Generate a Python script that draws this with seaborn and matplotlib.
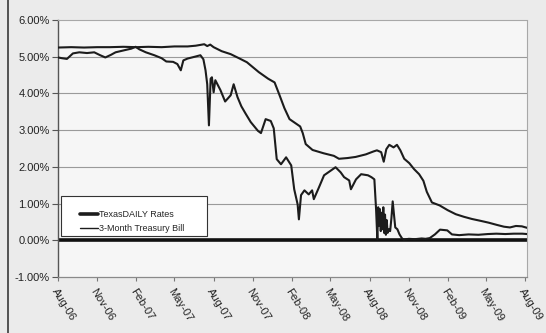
import matplotlib
matplotlib.use("Agg")
import matplotlib.pyplot as plt
import matplotlib.dates as mdates
from matplotlib.lines import Line2D
from matplotlib.patches import Rectangle
import numpy as np
import pandas as pd
import seaborn as sns

# TexasDAILY pool yield (%)
texas_dates = [
    "2006-08-01", "2006-09-01", "2006-10-01", "2006-11-01", "2006-12-01",
    "2007-01-01", "2007-02-01", "2007-03-01", "2007-04-01", "2007-05-01",
    "2007-06-01", "2007-06-20", "2007-07-10", "2007-07-17", "2007-07-24",
    "2007-08-01", "2007-08-20", "2007-09-10", "2007-10-01", "2007-10-18",
    "2007-11-15", "2007-12-07", "2007-12-22", "2008-01-02", "2008-01-14",
    "2008-01-26", "2008-02-10", "2008-02-20", "2008-02-26", "2008-03-04",
    "2008-03-20", "2008-04-15", "2008-05-09", "2008-05-21", "2008-06-10",
    "2008-06-29", "2008-07-23", "2008-08-10", "2008-08-18", "2008-08-28",
    "2008-09-03", "2008-09-09", "2008-09-16", "2008-09-26", "2008-10-04",
    "2008-10-12", "2008-10-21", "2008-11-02", "2008-11-13", "2008-11-25",
    "2008-12-05", "2008-12-13", "2008-12-25", "2009-01-12", "2009-01-31",
    "2009-02-19", "2009-03-10", "2009-03-29", "2009-04-18", "2009-05-07",
    "2009-05-26", "2009-06-12", "2009-06-26", "2009-07-10", "2009-07-24",
    "2009-08-05",
]
texas_rates = [
    5.25, 5.26, 5.25, 5.26, 5.26,
    5.27, 5.26, 5.27, 5.26, 5.28,
    5.28, 5.30, 5.34, 5.29, 5.33,
    5.26, 5.15, 5.07, 4.95, 4.85,
    4.58, 4.40, 4.30, 3.97, 3.60,
    3.30, 3.18, 3.10, 2.92, 2.62,
    2.46, 2.37, 2.30, 2.22, 2.24,
    2.27, 2.34, 2.42, 2.45, 2.40,
    2.14, 2.48, 2.60, 2.53, 2.60,
    2.45, 2.22, 2.10, 1.94, 1.80,
    1.62, 1.32, 1.03, 0.95, 0.82,
    0.71, 0.64, 0.58, 0.53, 0.48,
    0.42, 0.37, 0.35, 0.39, 0.38,
    0.34,
]

# 3-month Treasury bill yield (%)
tbill_dates = [
    "2006-08-01", "2006-08-10", "2006-08-22", "2006-09-05", "2006-09-20",
    "2006-10-08", "2006-10-25", "2006-11-08", "2006-11-20", "2006-12-03",
    "2006-12-14", "2007-01-05", "2007-01-20", "2007-01-30", "2007-02-08",
    "2007-02-23", "2007-03-15", "2007-04-01", "2007-04-12", "2007-04-28",
    "2007-05-08", "2007-05-16", "2007-05-22", "2007-06-01", "2007-06-18",
    "2007-07-01", "2007-07-08", "2007-07-13", "2007-07-17", "2007-07-21",
    "2007-07-25", "2007-07-28", "2007-08-01", "2007-08-05", "2007-08-17",
    "2007-08-28", "2007-09-10", "2007-09-17", "2007-09-26", "2007-10-05",
    "2007-10-15", "2007-10-27", "2007-11-13", "2007-11-20", "2007-12-01",
    "2007-12-13", "2007-12-20", "2007-12-27", "2008-01-06", "2008-01-18",
    "2008-01-30", "2008-02-06", "2008-02-14", "2008-02-17", "2008-02-22",
    "2008-03-01", "2008-03-11", "2008-03-19", "2008-03-23", "2008-04-04",
    "2008-04-16", "2008-05-02", "2008-05-13", "2008-05-25", "2008-06-02",
    "2008-06-14", "2008-06-18", "2008-06-30", "2008-07-12", "2008-07-28",
    "2008-08-05", "2008-08-12", "2008-08-16", "2008-08-19", "2008-08-21",
    "2008-08-23", "2008-08-25", "2008-08-27", "2008-08-29", "2008-08-31",
    "2008-09-02", "2008-09-04", "2008-09-06", "2008-09-08", "2008-09-10",
    "2008-09-12", "2008-09-15", "2008-09-18", "2008-09-21", "2008-09-24",
    "2008-09-27", "2008-09-30", "2008-10-05", "2008-10-10", "2008-10-16",
    "2008-10-20", "2008-11-01", "2008-11-15", "2008-12-01", "2008-12-10",
    "2008-12-20", "2009-01-01", "2009-01-13", "2009-01-30", "2009-02-10",
    "2009-02-27", "2009-03-21", "2009-04-13", "2009-05-05", "2009-05-25",
    "2009-06-15", "2009-07-05", "2009-07-25", "2009-08-05",
]
tbill_rates = [
    4.98, 4.96, 4.94, 5.09, 5.12,
    5.10, 5.12, 5.04, 4.98, 5.05,
    5.12, 5.18, 5.22, 5.27, 5.20,
    5.12, 5.04, 4.96, 4.87, 4.86,
    4.80, 4.63, 4.90, 4.95, 5.00,
    5.04, 4.93, 4.63, 4.25, 3.13,
    4.40, 4.44, 4.03, 4.36, 4.09,
    3.78, 3.95, 4.25, 3.90, 3.65,
    3.45, 3.22, 2.98, 2.92, 3.30,
    3.25, 3.05, 2.21, 2.07, 2.26,
    2.04, 1.39, 0.98, 0.57, 1.23,
    1.36, 1.25, 1.36, 1.12, 1.44,
    1.77, 1.90, 1.99, 1.85, 1.72,
    1.63, 1.39, 1.66, 1.80, 1.77,
    1.72, 1.66, 0.85, 0.03, 0.90,
    0.40, 0.85, 0.25, 0.75, 0.30,
    0.90, 0.20, 0.70, 0.15, 0.55,
    0.20, 0.30, 0.25, 0.60, 1.06,
    0.70, 0.35, 0.30, 0.16, 0.05,
    0.02, 0.04, 0.03, 0.05, 0.04,
    0.06, 0.16, 0.29, 0.27, 0.16,
    0.14, 0.16, 0.15, 0.17, 0.18,
    0.17, 0.18, 0.18, 0.17,
]

series_names = ["TexasDAILY Rates", "3-Month Treasury Bill"]
y_ticks = [-1, 0, 1, 2, 3, 4, 5, 6]
x_tick_dates = pd.date_range("2006-08-01", "2009-08-01", freq="3MS")

df = pd.concat([
    pd.DataFrame({"date": pd.to_datetime(texas_dates), "rate": texas_rates,
                  "series": series_names[0]}),
    pd.DataFrame({"date": pd.to_datetime(tbill_dates), "rate": tbill_rates,
                  "series": series_names[1]}),
], ignore_index=True)

sns.set_theme(style="white")
plt.rcParams["font.family"] = ["Liberation Sans", "DejaVu Sans"]

W, H = 546, 333
fig = plt.figure(figsize=(W / 100, H / 100), dpi=100, facecolor="#ebebeb")
ax = fig.add_axes([58 / W, 1 - 277 / H, (527 - 58) / W, (277 - 20) / H])
ax.set_facecolor("#f6f6f6")

# grid lines at each percent
for yv in y_ticks[1:-1]:
    ax.axhline(yv, color="#9a9a9a", lw=0.8, zorder=1)

# heavy zero line
ax.axhline(0, color="#111111", lw=2.6, zorder=2)

sns.lineplot(data=df, x="date", y="rate", hue="series",
             palette={series_names[0]: "#1c1c1c", series_names[1]: "#1c1c1c"},
             linewidth=1.5, legend=False, estimator=None, ax=ax, zorder=3)

ax.set_xlim(pd.Timestamp("2006-08-01"), pd.Timestamp("2009-08-05"))
ax.set_ylim(-1, 6)
ax.set_yticks(y_ticks)
ax.set_yticklabels([f"{v:.2f}%" for v in y_ticks])
ax.set_xticks(x_tick_dates)
ax.set_xticklabels([d.strftime("%b-%y") for d in x_tick_dates],
                   rotation=-58, ha="left", va="top", rotation_mode="anchor")
ax.set_xlabel("")
ax.set_ylabel("")

ax.tick_params(axis="y", direction="out", length=4, width=0.8, color="#555555",
               labelsize=8, labelcolor="#222222", pad=2, left=True)
ax.tick_params(axis="x", direction="out", length=3, width=0.8, color="#777777",
               labelsize=8, labelcolor="#222222", pad=4, bottom=True)

for side in ["top", "right"]:
    ax.spines[side].set_visible(True)
    ax.spines[side].set_color("#a8a8a8")
    ax.spines[side].set_linestyle((0, (1, 1)))
    ax.spines[side].set_linewidth(0.8)
ax.spines["left"].set_color("#555555")
ax.spines["left"].set_linewidth(1.0)
ax.spines["bottom"].set_color("#8a8a8a")
ax.spines["bottom"].set_linewidth(0.9)

# legend box
ax.add_patch(Rectangle((3 / 469, (277 - 236) / 257), (207 - 61) / 469, 40 / 257,
                       transform=ax.transAxes, facecolor="white",
                       edgecolor="#333333", lw=0.8, zorder=4))
handles = [Line2D([], [], color="#1c1c1c", lw=2.6),
           Line2D([], [], color="#1c1c1c", lw=1.0)]
leg = ax.legend(handles, series_names, loc="lower left",
                bbox_to_anchor=(22 / 469, (277 - 233) / 257),
                frameon=False, fontsize=6.5, handlelength=2.0, handletextpad=0.05,
                labelspacing=0.55, borderpad=0, borderaxespad=0)
leg.set_zorder(5)

# outer left border line
fig.add_artist(Line2D([8 / W, 8 / W], [0, 1], transform=fig.transFigure,
                      color="#3a3a3a", lw=1.2))

fig.savefig("out.png", dpi=100, facecolor=fig.get_facecolor())
